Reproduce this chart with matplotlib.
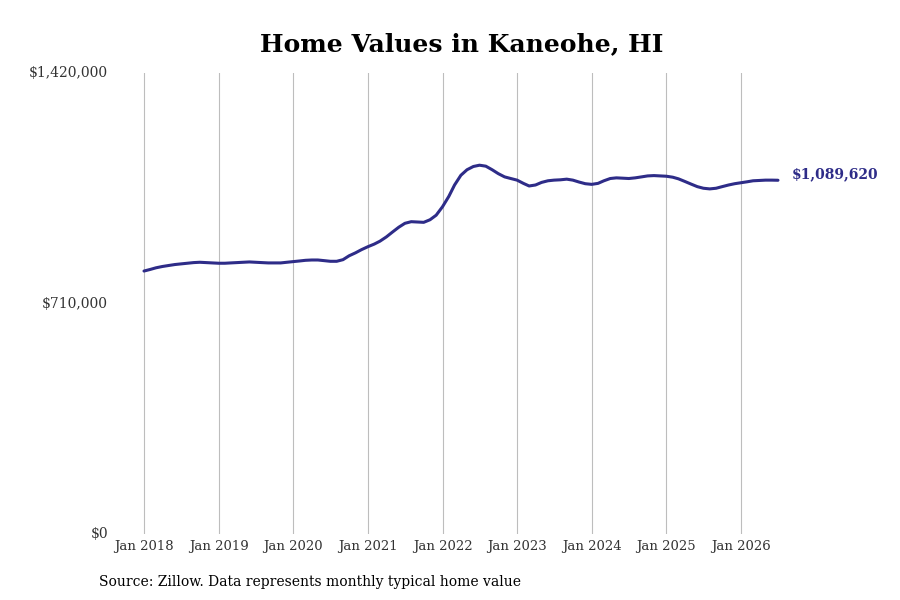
import numpy as np
import matplotlib
matplotlib.use("Agg")
import matplotlib.pyplot as plt
import matplotlib.dates as mdates
import pandas as pd

## Data (monthly from Jan 2018 to Jul 2026)
dates = pd.date_range("2018-01-01", "2026-07-01", freq="MS")
values = [810000, 815000, 820000, 824000, 827000, 830000, 832000, 834000, 836000, 837000, 836000, 835000,   # 2018
          834000, 834000, 835000, 836000, 837000, 838000, 837000, 836000, 835000, 835000, 835000, 837000,   # 2019
          839000, 841000, 843000, 844000, 844000, 842000, 840000, 840000, 845000, 857000, 866000, 876000,   # 2020
          885000, 893000, 902000, 915000, 930000, 945000, 957000, 962000, 961000, 960000, 968000, 982000,   # 2021
          1008000, 1040000, 1075000, 1105000, 1122000, 1132000, 1136000, 1133000, 1122000, 1110000, 1100000, 1095000,  # 2022
          1090000, 1080000, 1072000, 1075000, 1083000, 1088000, 1090000, 1091000, 1093000, 1090000, 1084000, 1079000,  # 2023
          1077000, 1080000, 1088000, 1095000, 1097000, 1096000, 1095000, 1097000, 1100000, 1103000, 1104000, 1103000,  # 2024
          1102000, 1099000, 1094000, 1086000, 1078000, 1070000, 1065000, 1063000, 1065000, 1070000, 1075000, 1079000,  # 2025
          1082000, 1085000, 1088000, 1089000, 1090000, 1090000, 1089620]  # 2026
ytick_vals = [0, 710000, 1420000]
ytick_labels = ["$0", "$710,000", "$1,420,000"]
xtick_years = list(range(2018, 2027))

line_color = "#2e2c88"
plt.rcParams["font.family"] = "DejaVu Serif"

fig = plt.figure(figsize=(9, 6), dpi=100)
ax = fig.add_axes([115/900, 1 - 534/600, (785-115)/900, (534-73)/600])

ax.plot(dates, values, color=line_color, lw=2.2, solid_capstyle="round", solid_joinstyle="round")

## x axis: Jan ticks
xt = [pd.Timestamp(f"{y}-01-01") for y in xtick_years]
ax.set_xticks(xt)
ax.set_xticklabels([f"Jan {y}" for y in xtick_years], fontsize=9.5, color="#333333")
# Jan 2018 at px 144, Jan 2026 at px 741
d0 = mdates.date2num(xt[0]); d1 = mdates.date2num(xt[-1])
per_px = (d1 - d0) / (741 - 144)
ax.set_xlim(d0 - (144 - 115) * per_px, d0 + (785 - 144) * per_px)

ax.set_ylim(0, 1420000)
ax.set_yticks(ytick_vals)
ax.set_yticklabels(ytick_labels, fontsize=10, color="#333333")
ax.tick_params(axis="x", length=0, pad=4)
ax.tick_params(axis="y", length=0, pad=5)
for lab in ax.get_yticklabels():
    lab.set_verticalalignment("center")

ax.grid(axis="x", color="#bdbdbd", lw=0.8)
ax.grid(axis="y", visible=False)
for s in ax.spines.values():
    s.set_visible(False)

ax.annotate(f"${values[-1]:,.0f}", xy=(dates[-1], values[-1]), xytext=(10, 4.5),
            textcoords="offset points", ha="left", va="center",
            fontsize=10, fontweight="bold", color=line_color, annotation_clip=False)

fig.text(0.5125, 1 - 44/600, "Home Values in Kaneohe, HI", ha="center", va="center",
         fontsize=18, fontweight="bold")
fig.text(99/900, 1 - 582/600, "Source: Zillow. Data represents monthly typical home value",
         ha="left", va="center", fontsize=10)

fig.savefig("out.png", dpi=100)
